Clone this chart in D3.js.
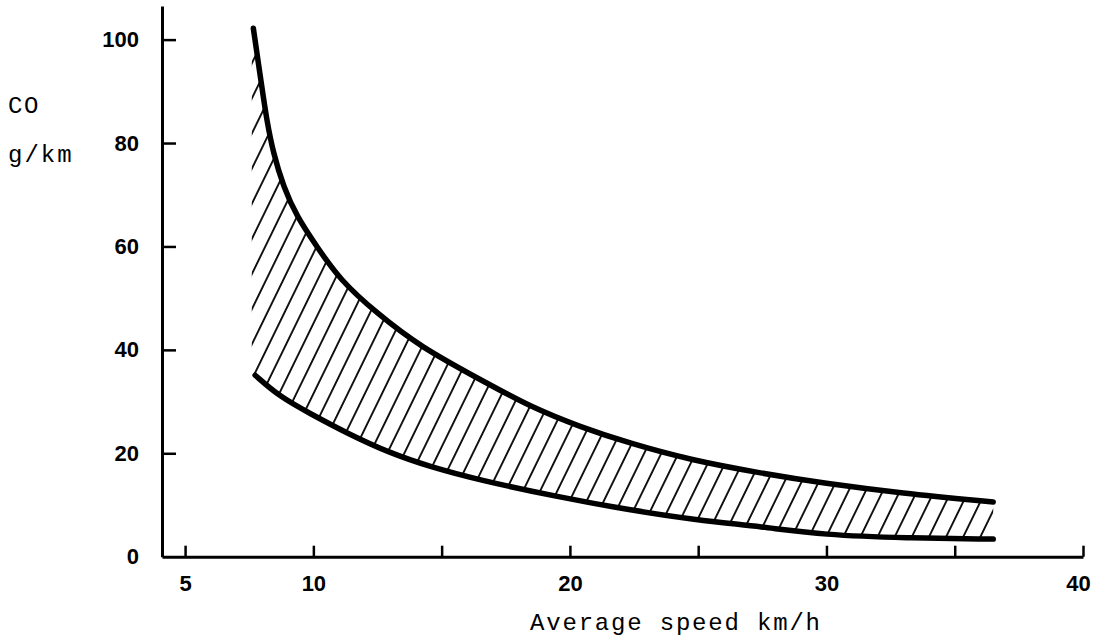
<!DOCTYPE html>
<html>
<head>
<meta charset="utf-8">
<script src="https://cdn.jsdelivr.net/npm/d3@7"></script>
<style>
  html, body { margin: 0; padding: 0; background: #fff; }
  svg { display: block; }
</style>
</head>
<body>
<svg id="chart" width="1099" height="643"></svg>
<script>
// ---- data ----
const upperSpeed = [7.66, 7.99, 8.18, 8.44, 8.83, 9.35, 10.13, 11.04, 12.47, 14.16, 16.6, 18.45, 20.4, 22.35, 24.7, 27.5, 29.9, 32.9, 36.5];
const upperCO    = [102.2, 90.9, 84.5, 78.0, 71.6, 65.8, 60.0, 53.5, 47.1, 40.6, 34.0, 29.0, 25.1, 21.9, 18.7, 16.1, 14.2, 12.3, 10.6];
const lowerSpeed = [7.73, 8.7, 9.87, 11.3, 13.0, 14.55, 16.4, 19.5, 22.35, 24.9, 27.5, 29.9, 33.1, 36.5];
const lowerCO    = [35.1, 30.9, 27.7, 23.9, 20.0, 17.4, 14.9, 11.6, 9.0, 7.1, 5.8, 4.2, 3.6, 3.4];
const xTicks = [5, 10, 15, 20, 25, 30, 35, 40];
const xTickLabels = ["5", "10", "", "20", "", "30", "", "40"];
const yTicks = [0, 20, 40, 60, 80, 100];
const yTickLabels = ["0", "20", "40", "60", "80", "100"];
const bandLeftSpeed = 7.6;  // left edge of the hatched band
const yTitle = ["CO", "g/km"];
const xTitle = "Average speed km/h";

// ---- scales ----
const svg = d3.select("#chart");
const x = d3.scaleLinear().domain([4.1, 40]).range([162, 1083]);
const y = d3.scaleLinear().domain([0, 106.5]).range([556.7, 6]);

const upper = upperSpeed.map((s, i) => [s, upperCO[i]]);
const lower = lowerSpeed.map((s, i) => [s, lowerCO[i]]);

const line = d3.line().x(d => x(d[0])).y(d => y(d[1])).curve(d3.curveBasis);

// ---- hatch pattern ----
const defs = svg.append("defs");
const pat = defs.append("pattern")
  .attr("id", "hatch")
  .attr("patternUnits", "userSpaceOnUse")
  .attr("width", 15.4)
  .attr("height", 40)
  .attr("patternTransform", "rotate(26)");
pat.append("line")
  .attr("x1", 7.7).attr("y1", -2).attr("x2", 7.7).attr("y2", 42)
  .attr("stroke", "#000").attr("stroke-width", 1.8);

// band region: upper curve, lower curve reversed, left edge
const bandPath = line(upper)
  + line(lower.slice().reverse()).replace(/^M/, "L")
  + "L" + x(bandLeftSpeed) + "," + y(36.5)
  + "L" + x(bandLeftSpeed) + "," + y(96)
  + "Z";
svg.append("path")
  .attr("d", bandPath)
  .attr("fill", "url(#hatch)")
  .attr("stroke", "none");

// ---- curves ----
[upper, lower].forEach(pts => {
  svg.append("path")
    .attr("d", line(pts))
    .attr("fill", "none")
    .attr("stroke", "#000")
    .attr("stroke-width", 5.5)
    .attr("stroke-linecap", "round")
    .attr("stroke-linejoin", "round");
});

// ---- axes ----
const numFont = "'Liberation Sans', Arial, sans-serif";

const yAxis = d3.axisLeft(y)
  .tickValues(yTicks)
  .tickFormat((d, i) => yTickLabels[i])
  .tickSizeInner(-14)
  .tickSizeOuter(0)
  .tickPadding(23);
const gy = svg.append("g").attr("transform", "translate(162,0)").call(yAxis);

const xAxis = d3.axisBottom(x)
  .tickValues(xTicks)
  .tickFormat((d, i) => xTickLabels[i])
  .tickSizeInner(-11)
  .tickSizeOuter(0)
  .tickPadding(20);
const gx = svg.append("g").attr("transform", "translate(0,556.7)").call(xAxis);

[gx, gy].forEach(g => {
  g.select(".domain").attr("stroke", "#000").attr("stroke-width", 3);
  g.selectAll(".tick line").attr("stroke", "#000").attr("stroke-width", 2.5);
  g.selectAll(".tick text")
    .attr("fill", "#000")
    .style("font-family", numFont)
    .style("font-size", "22px")
    .style("font-weight", "bold");
});
gy.selectAll(".tick").filter(d => d === 0).select("line").remove();
gx.selectAll(".tick").filter(d => d === 40).select("text").attr("dx", -5);
gx.selectAll(".tick text").attr("dy", "0.66em");

// ---- titles (typewriter) ----
const monoFont = "'Liberation Mono', 'DejaVu Sans Mono', monospace";
svg.append("text")
  .attr("x", 8).attr("y", 113)
  .style("font-family", monoFont).style("font-size", "24px")
  .style("letter-spacing", "1.5px")
  .text(yTitle[0]);
svg.append("text")
  .attr("x", 8).attr("y", 162)
  .style("font-family", monoFont).style("font-size", "24px")
  .style("letter-spacing", "2px")
  .text(yTitle[1]);
svg.append("text")
  .attr("x", 530).attr("y", 630)
  .attr("textLength", 290)
  .attr("lengthAdjust", "spacing")
  .style("font-family", monoFont).style("font-size", "24px")
  .text(xTitle);
</script>
</body>
</html>
